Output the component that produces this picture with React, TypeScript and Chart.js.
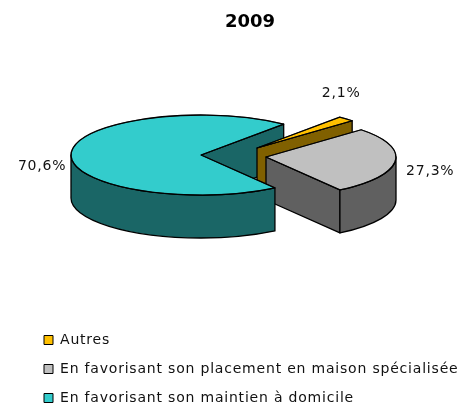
import React, { useEffect, useRef } from "react";
import { Chart, registerables } from "chart.js";

Chart.register(...registerables);

const chartTitle = "2009";
const categories = [
  "Autres",
  "En favorisant son placement en maison spécialisée",
  "En favorisant son maintien à domicile",
];
const values = [2.1, 27.3, 70.6];
const valueLabels = ["2,1%", "27,3%", "70,6%"];

const topColors = ["#FFC000", "#C0C0C0", "#33CCCC"];
const sideColors = ["#806000", "#606060", "#1A6666"];
const FONT = '"DejaVu Sans", sans-serif';
const TEXT_SPACING = "0.8px";

// projection of the flat pie
const CENTER_X = 201;
const CENTER_Y = 155;
const TILT = 0.3077;
const DEPTH = 43;
const EXPLODE_X = [56, 65, 0];
const EXPLODE_Y = [-7, 2, 0];
const LABEL_NUDGE_X = [-5, 35, -29];
const LABEL_NUDGE_Y = [-26, 10, 13];
const PAINT_ORDER = [0, 1, 2];

const pie3d = {
  id: "pie3d",
  beforeDraw(chart: any) {
    // the legend text is letter-spaced, the title is not
    const legend = chart.legend;
    if (legend && !legend.__spaced) {
      const draw = legend.draw;
      legend.draw = function (...args: any[]) {
        const c = chart.ctx;
        c.save();
        c.letterSpacing = TEXT_SPACING;
        draw.apply(this, args);
        c.restore();
      };
      legend.__spaced = true;
    }
  },
  beforeDatasetsDraw(chart: any) {
    const { ctx } = chart;
    const arcs = chart.getDatasetMeta(0).data;

    const geom = (i: number) => {
      const a = arcs[i];
      return {
        a,
        cx: CENTER_X + EXPLODE_X[i],
        cy: CENTER_Y + EXPLODE_Y[i],
        r: a.outerRadius,
        ry: a.outerRadius * TILT,
      };
    };

    const line = () => {
      ctx.strokeStyle = "#000";
      ctx.lineWidth = 1.3;
      ctx.lineJoin = "round";
    };

    const wall = (i: number, angle: number) => {
      const { cx, cy, r, ry } = geom(i);
      const px = cx + r * Math.cos(angle);
      const py = cy + ry * Math.sin(angle);
      ctx.beginPath();
      ctx.moveTo(cx, cy);
      ctx.lineTo(px, py);
      ctx.lineTo(px, py + DEPTH);
      ctx.lineTo(cx, cy + DEPTH);
      ctx.closePath();
      ctx.fillStyle = sideColors[i];
      ctx.fill();
      line();
      ctx.stroke();
    };

    const walls = (i: number) => {
      const { a } = geom(i);
      if (Math.cos(a.startAngle) < 0) wall(i, a.startAngle);
      if (Math.cos(a.endAngle) > 0) wall(i, a.endAngle);
    };

    const rim = (i: number) => {
      const { a, cx, cy, r, ry } = geom(i);
      const tau = Math.PI * 2;
      const s = ((a.startAngle % tau) + tau) % tau;
      const e = s + (a.endAngle - a.startAngle);
      [0, tau].forEach((base) => {
        const a0 = Math.max(s, base);
        const a1 = Math.min(e, base + Math.PI);
        if (a1 <= a0) return;
        ctx.beginPath();
        ctx.ellipse(cx, cy, r, ry, 0, a0, a1);
        ctx.ellipse(cx, cy + DEPTH, r, ry, 0, a1, a0, true);
        ctx.closePath();
        ctx.fillStyle = sideColors[i];
        ctx.fill();
        line();
        ctx.stroke();
      });
    };

    const top = (i: number) => {
      const { a, cx, cy, r, ry } = geom(i);
      ctx.save();
      ctx.translate(cx, cy);
      ctx.scale(1, TILT);
      ctx.translate(-a.x, -a.y);
      a.draw(ctx);
      ctx.restore();
      ctx.beginPath();
      ctx.moveTo(cx, cy);
      ctx.ellipse(cx, cy, r, ry, 0, a.startAngle, a.endAngle);
      ctx.closePath();
      line();
      ctx.stroke();
    };

    ctx.save();
    // the wall behind the gap goes first, the big slice's front goes last
    if (Math.cos(arcs[2].endAngle) > 0) wall(2, arcs[2].endAngle);
    PAINT_ORDER.forEach((i) => {
      if (i !== 2) walls(i);
      rim(i);
      top(i);
    });

    ctx.fillStyle = "#111";
    ctx.font = `14px ${FONT}`;
    ctx.letterSpacing = TEXT_SPACING;
    ctx.textAlign = "center";
    ctx.textBaseline = "middle";
    valueLabels.forEach((text, i) => {
      const { a, cx, cy, r, ry } = geom(i);
      const mid = (a.startAngle + a.endAngle) / 2;
      ctx.fillText(
        text,
        cx + r * Math.cos(mid) + LABEL_NUDGE_X[i],
        cy + ry * Math.sin(mid) + LABEL_NUDGE_Y[i]
      );
    });
    ctx.restore();
    return false;
  },
};

export default function App() {
  const ref = useRef<HTMLCanvasElement | null>(null);
  useEffect(() => {
    if (!ref.current) return;
    const chart = new Chart(ref.current, {
      type: "pie",
      data: {
        labels: categories,
        datasets: [
          {
            data: values,
            backgroundColor: topColors,
            borderColor: "#000",
            borderWidth: 1,
          },
        ],
      },
      options: {
        responsive: false,
        animation: false,
        rotation: 39.5,
        radius: 130,
        layout: { padding: { left: 29, right: -11, top: 0, bottom: -11 } },
        plugins: {
          tooltip: { enabled: false },
          title: {
            display: true,
            text: chartTitle,
            color: "#000",
            font: { family: FONT, size: 18, weight: "bold" },
            padding: { top: 12, bottom: 10 },
          },
          legend: {
            position: "bottom",
            align: "start",
            labels: {
              boxWidth: 9,
              boxHeight: 9,
              padding: 15,
              color: "#111",
              font: { family: FONT, size: 14 },
            },
          },
        },
      },
      plugins: [pie3d],
    } as any);
    return () => chart.destroy();
  }, []);
  return (
    <div style={{ position: "absolute", left: 0, top: 0, width: 460, height: 404 }}>
      <canvas ref={ref} width={460} height={404} style={{ display: "block" }} />
    </div>
  );
}
